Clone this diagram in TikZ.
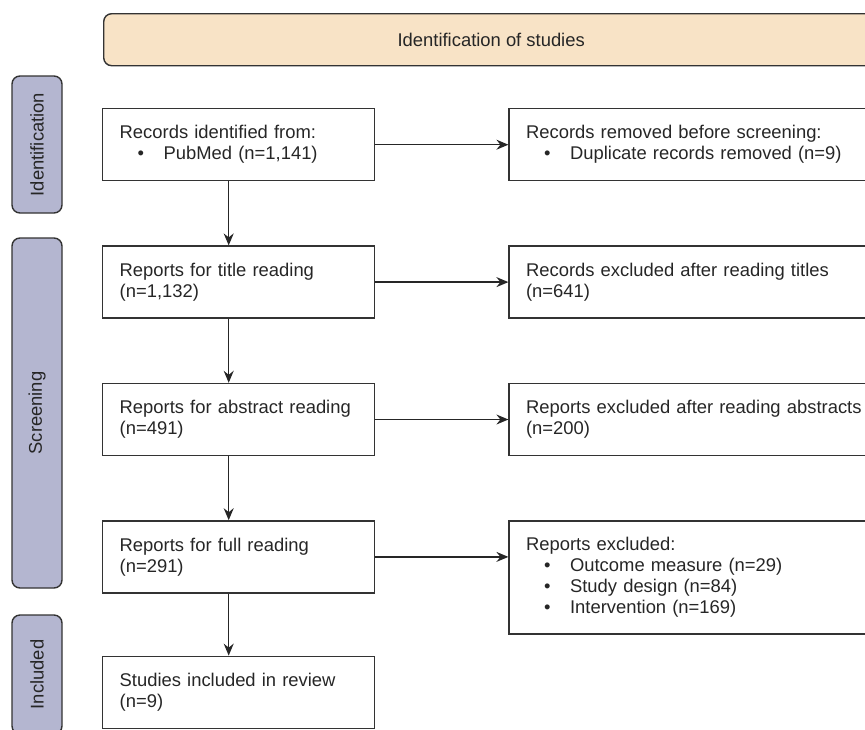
\documentclass[tikz,border=0pt]{standalone}
\usepackage{fontspec}
\setmainfont{Liberation Sans}
\usetikzlibrary{positioning,arrows.meta}

\definecolor{headfill}{HTML}{F8E3C6}
\definecolor{phasefill}{HTML}{B4B6D0}
\definecolor{linegray}{HTML}{333333}
\newcommand{\bitem}[1]{\hspace*{18pt}\makebox[26pt][l]{\textbullet}#1}

\begin{document}
\begin{tikzpicture}
[
    x = 1pt, y = -1pt,
    node distance = 64pt and 133pt,
    every node/.style = {font=\fontsize{18.4pt}{21pt}\selectfont,
                         text=black!85},
    boxstyle/.style   = {draw=linegray,
                         line width=1.4pt,
                         minimum height=72pt,
                         text width=238pt,
                         inner xsep=17pt,
                         inner ysep=0pt,
                         align=left},
    widebox/.style    = {boxstyle,
                         text width=360pt},
    phase/.style      = {draw=linegray,
                         line width=1.4pt,
                         fill=phasefill,
                         rounded corners=8pt,
                         rotate=90,
                         minimum height=50pt,
                         inner sep=0pt},
    arr/.style        = {line width=1.4pt,
                         draw=black!85,
                         -{Stealth[length=12pt, width=10pt, inset=4pt]}}
]

\useasboundingbox (0,0) rectangle (865,729);
\clip (0,0) rectangle (865,729);

\node (head) [draw=linegray, line width=1.4pt, fill=headfill,
              rounded corners=8pt, minimum width=775pt,
              minimum height=52pt, anchor=north west] at (103,13) {
Identification of studies
};

\node (idph) [phase, minimum width=137pt] at (37,144.5) {Identification};
\node (scph) [phase, minimum width=350pt] at (37,413) {Screening};
\node (inph) [phase, minimum width=119pt] at (37,674.5) {Included};

\node (rec) [boxstyle, anchor=north west] at (102,108) {
Records identified from:\\
\bitem{PubMed (n=1,141)}
};
\node (dup) [widebox, right=of rec] {
Records removed before screening:\\
\bitem{Duplicate records removed (n=9)}
};

\draw[arr] (rec) -- (dup);

\node (title) [boxstyle, below=of rec] {
Reports for title reading\\
(n=1,132)
};
\node (titleex) [widebox, right=of title] {
Records excluded after reading titles\\
(n=641)
};

\draw[arr] ([xshift=-10pt]rec.south) -- ([xshift=-10pt]title.north);
\draw[arr] (title) -- (titleex);

\node (abs) [boxstyle, below=of title] {
Reports for abstract reading\\
(n=491)
};
\node (absex) [widebox, right=of abs] {
Reports excluded after reading abstracts\\
(n=200)
};

\draw[arr] ([xshift=-10pt]title.south) -- ([xshift=-10pt]abs.north);
\draw[arr] (abs) -- (absex);

\node (full) [boxstyle, below=of abs] {
Reports for full reading\\
(n=291)
};
\node (fullex) [widebox, minimum height=113pt,
                right=133pt of full.north east, anchor=north west] {
Reports excluded:\\
\bitem{Outcome measure (n=29)}\\
\bitem{Study design (n=84)}\\
\bitem{Intervention (n=169)}
};

\draw[arr] ([xshift=-10pt]abs.south) -- ([xshift=-10pt]full.north);
\draw[arr] (full.east) -- (full.east -| fullex.west);

\node (incl) [boxstyle, below=62pt of full] {
Studies included in review\\
(n=9)
};

\draw[arr] ([xshift=-10pt]full.south) -- ([xshift=-10pt]incl.north);

\end{tikzpicture}
\end{document}
